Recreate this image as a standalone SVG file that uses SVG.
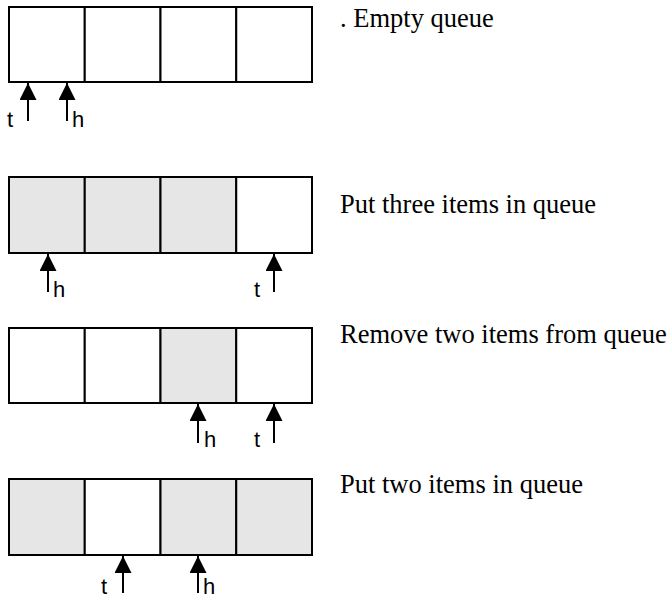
<svg xmlns="http://www.w3.org/2000/svg" width="671" height="598" viewBox="0 0 671 598">
<style>
.cell{stroke:#000;stroke-width:2;fill:#fff}
.full{fill:#e6e6e6}
.arr{stroke:#000;stroke-width:2;fill:none;marker-end:url(#ah)}
.ptr{font-family:"Liberation Sans",Arial,sans-serif;font-size:22px;fill:#000}
.cap{font-family:"Liberation Serif","Times New Roman",serif;font-size:26.5px;fill:#000}
</style>
<defs>
<marker id="ah" markerUnits="userSpaceOnUse" markerWidth="17" markerHeight="17" refX="17" refY="8.5" orient="auto">
<path d="M0,0 L17,8.5 L0,17 z" fill="#000"/>
</marker>
</defs>
<rect width="671" height="598" fill="#fff"/>

<g id="queue1">
<rect class="cell" x="9" y="7" width="75.75" height="75"/>
<rect class="cell" x="84.75" y="7" width="75.75" height="75"/>
<rect class="cell" x="160.5" y="7" width="75.75" height="75"/>
<rect class="cell" x="236.25" y="7" width="75.75" height="75"/>
</g>
<g id="queue2">
<rect class="cell full" x="9" y="177" width="75.75" height="76"/>
<rect class="cell full" x="84.75" y="177" width="75.75" height="76"/>
<rect class="cell full" x="160.5" y="177" width="75.75" height="76"/>
<rect class="cell" x="236.25" y="177" width="75.75" height="76"/>
</g>
<g id="queue3">
<rect class="cell" x="9" y="328" width="75.75" height="75"/>
<rect class="cell" x="84.75" y="328" width="75.75" height="75"/>
<rect class="cell full" x="160.5" y="328" width="75.75" height="75"/>
<rect class="cell" x="236.25" y="328" width="75.75" height="75"/>
</g>
<g id="queue4">
<rect class="cell full" x="9" y="479" width="75.75" height="76"/>
<rect class="cell" x="84.75" y="479" width="75.75" height="76"/>
<rect class="cell full" x="160.5" y="479" width="75.75" height="76"/>
<rect class="cell full" x="236.25" y="479" width="75.75" height="76"/>
</g>

<g id="connectors">
<line class="arr" x1="28" y1="121" x2="28" y2="83"/>
<line class="arr" x1="67" y1="121" x2="67" y2="83"/>
<line class="arr" x1="48" y1="292" x2="48" y2="254"/>
<line class="arr" x1="274" y1="292" x2="274" y2="254"/>
<line class="arr" x1="198" y1="443" x2="198" y2="404"/>
<line class="arr" x1="274" y1="443" x2="274" y2="404"/>
<line class="arr" x1="123" y1="593" x2="123" y2="556"/>
<line class="arr" x1="198" y1="593" x2="198" y2="556"/>
</g>

<g id="pointer-labels">
<text class="ptr" x="7" y="127">t</text>
<text class="ptr" x="72" y="127">h</text>
<text class="ptr" x="53" y="297">h</text>
<text class="ptr" x="254" y="297">t</text>
<text class="ptr" x="204" y="447">h</text>
<text class="ptr" x="254" y="447">t</text>
<text class="ptr" x="101" y="594">t</text>
<text class="ptr" x="203" y="594">h</text>
</g>

<g id="captions">
<text class="cap" x="340" y="27">. Empty queue</text>
<text class="cap" x="340" y="213">Put three items in queue</text>
<text class="cap" x="340" y="343">Remove two items from queue</text>
<text class="cap" x="340" y="493">Put two items in queue</text>
</g>
</svg>
